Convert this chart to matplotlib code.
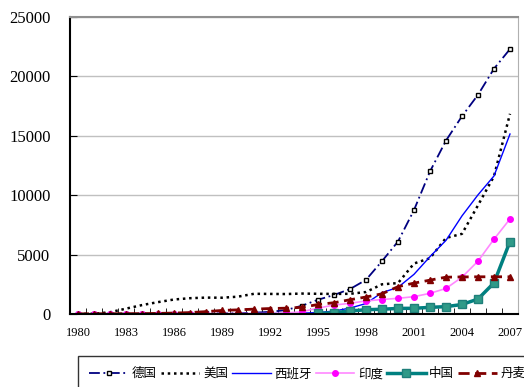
import numpy as np
import matplotlib
matplotlib.use('Agg')
import matplotlib.pyplot as plt
from matplotlib.ticker import FixedLocator

plt.rcParams['font.family'] = ['Noto Sans CJK SC', 'DejaVu Sans']

years = list(range(1980, 2008))

germany = [10, 10, 20, 20, 20, 30, 30, 40, 50, 60, 60, 110, 180, 330, 700, 1200, 1600, 2100,
           2875, 4450, 6100, 8750, 12000, 14600, 16650, 18450, 20650, 22300]
usa = [10, 20, 150, 450, 750, 1000, 1220, 1330, 1380, 1370, 1460, 1700, 1690, 1680, 1720, 1700,
       1690, 1700, 1850, 2500, 2600, 4250, 4700, 6400, 6750, 9150, 11600, 16850]
spain = [0, 0, 0, 0, 0, 0, 0, 0, 0, 0, 7, 7, 50, 52, 75, 115, 250, 500,
         880, 1800, 2240, 3340, 4830, 6200, 8260, 10030, 11620, 15150]
india = [0, 0, 0, 0, 0, 0, 10, 20, 30, 40, 40, 40, 40, 80, 190, 500, 750, 900,
         1100, 1220, 1320, 1460, 1740, 2150, 3100, 4450, 6300, 8000]
china_years = list(range(1995, 2008))
china = [50, 110, 250, 360, 400, 470, 480, 560, 620, 800, 1260, 2620, 6100]
denmark = [10, 20, 20, 30, 30, 50, 80, 120, 200, 300, 350, 410, 460, 490, 560, 800, 950, 1200,
           1430, 1700, 2300, 2600, 2850, 3100, 3120, 3130, 3135, 3130]

labels = ['德国', '美国', '西班牙', '印度', '中国', '丹麦']

fig = plt.figure(figsize=(5.24, 3.87), dpi=100)
ax = fig.add_axes([70 / 524, 1 - 314 / 387, 448 / 524, 297 / 387])

ax.plot(years, germany, color='#000080', linewidth=1.3, linestyle=(0, (6, 2, 1, 2)),
        marker='s', markersize=3, markerfacecolor='white', markeredgecolor='black',
        markeredgewidth=1, label=labels[0])
ax.plot(years, usa, color='black', linewidth=1.8, linestyle=(0, (1, 1.5)), label=labels[1])
ax.plot(years, spain, color='#0000ff', linewidth=1, label=labels[2])
ax.plot(years, india, color='#ff88ff', linewidth=1.2, marker='o', markersize=4,
        markerfacecolor='#ff00ff', markeredgecolor='#ff00ff', label=labels[3])
ax.plot(china_years, china, color='#008080', linewidth=2.5, marker='s', markersize=6,
        markerfacecolor='#2f9a88', markeredgecolor='#1f7f7a', label=labels[4])
ax.plot(years, denmark, color='#800000', linewidth=2, linestyle=(0, (4, 2)),
        marker='^', markersize=5, markerfacecolor='#800000', markeredgecolor='#800000',
        label=labels[5])

ax.set_xlim(1979.5, 2007.5)
ax.set_ylim(0, 25000)
ax.set_yticks(range(0, 25001, 5000))
ax.set_xticks(years[::3])
ax.xaxis.set_minor_locator(FixedLocator(np.arange(1979.5, 2008, 1)))
ax.tick_params(axis='x', which='major', length=0, pad=9)
ax.tick_params(axis='x', which='minor', direction='in', length=4, color='black')
ax.tick_params(axis='y', direction='in', length=5, pad=14)
for t in ax.get_xticklabels():
    t.set_fontfamily('Liberation Serif')
    t.set_fontsize(9)
for t in ax.get_yticklabels():
    t.set_fontfamily('Liberation Serif')
    t.set_fontsize(12)

ax.yaxis.grid(True, color='#c0c0c0', linewidth=1)
ax.set_axisbelow(True)
ax.spines['left'].set_linewidth(1.5)
ax.spines['bottom'].set_linewidth(1.5)
ax.spines['top'].set_color('#909090')
ax.spines['top'].set_linewidth(1.5)
ax.spines['right'].set_color('#b0b0b0')

leg = fig.legend(loc='upper left', bbox_to_anchor=(78 / 524, 1 - 356 / 387), ncol=6,
                 frameon=True, fancybox=False, edgecolor='black', fontsize=9,
                 handlelength=3.1, handletextpad=0.3, columnspacing=0.3,
                 borderpad=0.9, borderaxespad=0)
leg.get_frame().set_linewidth(1)

fig.savefig('out.png', dpi=100)
